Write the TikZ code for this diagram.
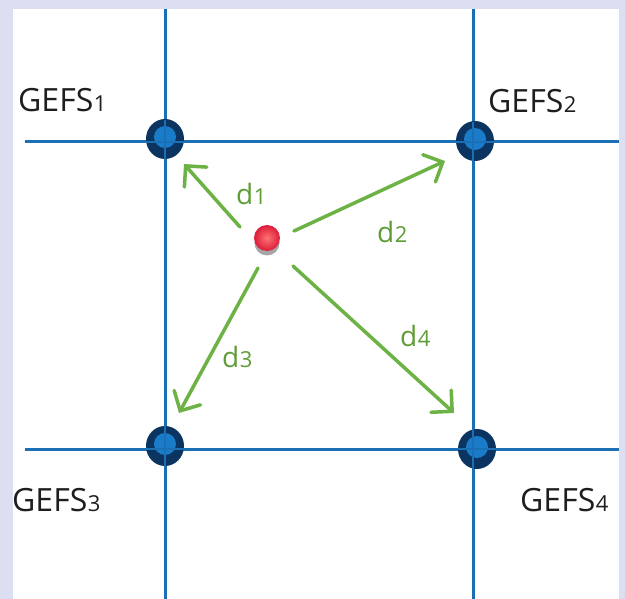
\documentclass[tikz,border=0pt]{standalone}
\usepackage{fontspec}
\setmainfont{Open Sans}
\usetikzlibrary{arrows.meta,shapes.geometric}
\definecolor{frame}{HTML}{DCDFF2}
\definecolor{gridblue}{HTML}{1B6FB5}
\definecolor{navy}{HTML}{0B3560}
\definecolor{dotblue}{HTML}{1A7CC8}
\definecolor{arrowgreen}{HTML}{6DB244}
\definecolor{labelgreen}{HTML}{5E9C35}
\definecolor{redball}{HTML}{DC1C3A}
\definecolor{textgray}{HTML}{1E1E1E}
\tikzset{
  gridline/.style={draw=gridblue,line width=3pt},
  outerdot/.style={ellipse,fill=navy,minimum width=38pt,minimum height=40pt,inner sep=0pt},
  innerdot/.style={circle,fill=dotblue,minimum size=22pt,inner sep=0pt},
  darrow/.style={draw=arrowgreen,line width=3.5pt,line cap=round,-{Straight Barb[length=15pt,width=30pt,line cap=round]}},
  gefs/.style={anchor=base west,inner sep=0pt,text=textgray,font=\fontsize{32}{38}\selectfont},
  dlab/.style={anchor=base west,inner sep=0pt,text=labelgreen,font=\fontsize{28}{34}\selectfont},
}
\newcommand{\gsub}[1]{\kern0.5pt{\fontsize{22}{26}\selectfont #1}}
\newcommand{\dsub}[1]{\kern0.5pt{\fontsize{22}{26}\selectfont #1}}
\begin{document}
\begin{tikzpicture}[x=1pt,y=-1pt]
\useasboundingbox (0,0) rectangle (625,599);
\fill[frame] (0,0) rectangle (625,599);
\fill[white] (13,9) rectangle (619,599);
% grid
\coordinate (v1t) at (165,9);   \coordinate (v1b) at (165,599);
\coordinate (v2t) at (473,9);   \coordinate (v2b) at (473,599);
\coordinate (h1l) at (25,142);  \coordinate (h1r) at (619,142);
\coordinate (h2l) at (25,449);  \coordinate (h2r) at (619,449);
\draw[gridline] (v1t) -- (v1b);
\draw[gridline] (v2t) -- (v2b);
\draw[gridline] (h1l) -- (h1r);
\draw[gridline] (h2l) -- (h2r);
% grid dots
\node[outerdot] (g1) at (165,139) {};
\node[innerdot] (g1i) at (165,137) {};
\node[outerdot] (g2) at (475,141) {};
\node[innerdot] (g2i) at (475,139) {};
\node[outerdot] (g3) at (165,446) {};
\node[innerdot] (g3i) at (165,444) {};
\node[outerdot] (g4) at (477,449) {};
\node[innerdot] (g4i) at (477,447) {};
% grid lines over dots
\draw[gridblue,line width=2.5pt] (165,120) -- (165,160) (145,142) -- (185,142);
\draw[gridblue,line width=2.5pt] (473,122) -- (473,162) (455,142) -- (495,142);
\draw[gridblue,line width=2.5pt] (165,426) -- (165,466) (145,449) -- (185,449);
\draw[gridblue,line width=2.5pt] (473,429) -- (473,469) (458,449) -- (497,449);
% red point
\node[circle,fill=gray!70,minimum size=25pt,inner sep=0pt] (ps) at (267,243) {};
\node[circle,inner color=red!55!white,outer color=redball,minimum size=26pt,inner sep=0pt] (p) at (267,238) {};
% arrow ends
\coordinate (a1s) at (240,227); \coordinate (a1e) at (184,164);
\coordinate (a2s) at (294,231); \coordinate (a2e) at (445,161);
\coordinate (a3s) at (258,268); \coordinate (a3e) at (179,413);
\coordinate (a4s) at (293,266); \coordinate (a4e) at (454,413);
\draw[darrow] (a1s) -- (a1e);
\draw[darrow] (a2s) -- (a2e);
\draw[darrow] (a3s) -- (a3e);
\draw[darrow] (a4s) -- (a4e);
% labels
\node[dlab] (d1) at (236,205) {d\dsub{1}};
\node[dlab] (d2) at (377,243) {d\dsub{2}};
\node[dlab] (d3) at (222,367) {d\dsub{3}};
\node[dlab] (d4) at (400,347) {d\dsub{4}};
\node[gefs] (l1) at (18,112) {GEFS\gsub{1}};
\node[gefs] (l2) at (488,113) {GEFS\gsub{2}};
\node[gefs] (l3) at (12,511) {GEFS\gsub{3}};
\node[gefs] (l4) at (520,511) {GEFS\gsub{4}};
\end{tikzpicture}
\end{document}
